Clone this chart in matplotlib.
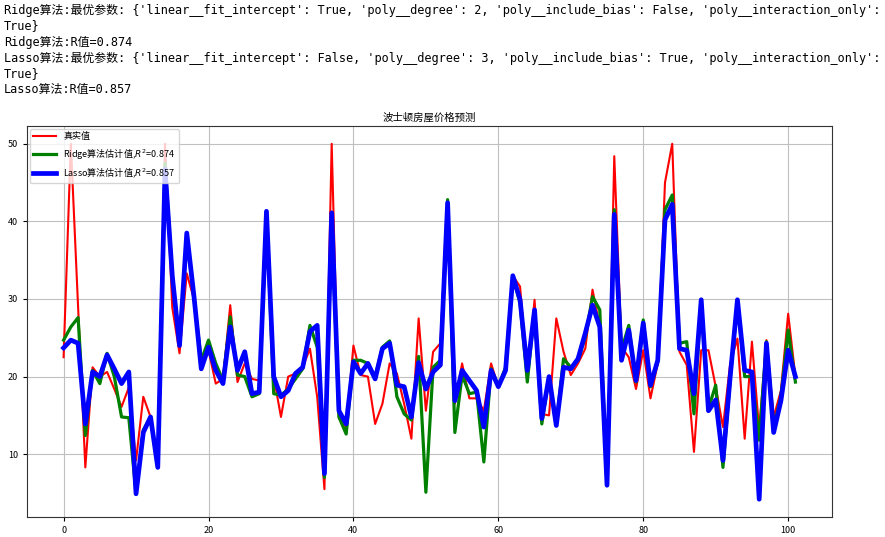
import numpy as np
import matplotlib
matplotlib.use("Agg")
import matplotlib.pyplot as plt

# fuente con soporte para chino
plt.rcParams["font.family"] = ["Noto Sans CJK SC", "DejaVu Sans"]
plt.rcParams["axes.unicode_minus"] = False

# valores
y_true = [22.5, 50.0, 29.0, 8.3, 21.2, 20.0, 20.6, 18.4, 16.1, 18.6,
          9.2, 17.4, 14.8, 8.3, 50.0, 28.9, 23.0, 33.3, 29.9, 21.7,
          23.4, 19.1, 19.7, 29.2, 19.3, 21.7, 19.7, 19.5, 41.3, 20.0,
          14.8, 20.0, 20.4, 21.2, 23.6, 17.4, 5.5, 50.0, 14.6, 13.5,
          24.0, 20.2, 20.0, 13.9, 16.5, 21.7, 20.4, 16.5, 12.0, 27.5,
          15.6, 23.2, 24.3, 42.6, 16.5, 21.7, 17.2, 17.2, 15.6, 21.7,
          18.7, 21.0, 33.0, 31.6, 20.4, 29.9, 15.2, 15.0, 27.5, 23.2,
          20.2, 21.7, 23.6, 31.2, 26.4, 6.0, 48.4, 23.8, 22.5, 18.4,
          23.4, 17.2, 21.7, 45.0, 50.0, 23.2, 21.5, 10.3, 23.4, 23.4,
          18.7, 13.5, 21.7, 24.9, 12.0, 24.5, 13.1, 24.7, 14.8, 18.2,
          28.1, 20.0]
y_ridge = [24.7, 26.4, 27.6, 12.4, 20.8, 19.1, 23.0, 20.0, 14.8, 14.7,
           4.9, 13.1, 14.8, 8.3, 47.5, 33.0, 24.2, 38.0, 30.0, 22.1,
           24.7, 21.7, 19.5, 27.7, 20.2, 20.0, 17.4, 17.8, 41.3, 17.8,
           17.6, 18.4, 19.7, 21.0, 26.6, 23.8, 7.0, 40.6, 14.8, 12.6,
           22.1, 22.1, 21.7, 20.0, 23.8, 24.6, 17.4, 15.2, 14.4, 22.6,
           5.1, 21.2, 22.1, 42.8, 12.8, 20.2, 17.8, 18.0, 9.0, 21.0,
           18.7, 21.2, 33.0, 29.4, 19.3, 28.6, 13.9, 20.0, 13.9, 22.3,
           21.2, 22.1, 25.1, 30.3, 28.6, 6.0, 41.5, 23.4, 26.6, 19.3,
           27.3, 18.7, 21.9, 41.5, 43.4, 24.3, 24.5, 15.2, 29.9, 15.9,
           18.9, 8.3, 19.7, 29.7, 20.0, 20.0, 11.8, 24.5, 13.5, 17.4,
           26.0, 19.3]
y_lasso = [23.7, 24.7, 24.3, 13.9, 20.6, 20.0, 22.8, 21.0, 19.1, 20.6,
           4.9, 12.8, 14.8, 8.3, 46.7, 33.0, 24.0, 38.5, 30.3, 21.0,
           23.8, 20.8, 19.1, 26.4, 20.8, 23.2, 17.8, 18.0, 41.3, 20.0,
           17.4, 18.2, 20.4, 21.2, 25.8, 26.6, 7.5, 41.1, 15.6, 13.9,
           21.9, 20.4, 21.7, 19.7, 23.6, 24.3, 18.9, 18.7, 14.8, 21.8,
           18.4, 20.6, 21.5, 42.4, 16.9, 20.8, 19.5, 18.2, 13.5, 20.8,
           18.7, 20.8, 33.0, 29.9, 20.8, 28.6, 14.6, 20.0, 13.7, 21.2,
           21.0, 22.3, 25.6, 29.2, 26.4, 6.0, 40.9, 22.1, 26.0, 19.5,
           26.9, 18.9, 22.1, 40.2, 42.2, 23.6, 23.4, 17.8, 29.9, 15.6,
           17.0, 9.2, 20.0, 29.9, 20.8, 20.6, 4.2, 24.3, 12.8, 16.9,
           23.4, 20.0]

r2_ridge = 0.874
r2_lasso = 0.857

salida = [
    "Ridge算法:最优参数: {'linear__fit_intercept': True, 'poly__degree': 2, "
    "'poly__include_bias': False, 'poly__interaction_only':",
    "True}",
    "Ridge算法:R值=%.3f" % r2_ridge,
    "Lasso算法:最优参数: {'linear__fit_intercept': False, 'poly__degree': 3, "
    "'poly__include_bias': True, 'poly__interaction_only':",
    "True}",
    "Lasso算法:R值=%.3f" % r2_lasso,
]

fig = plt.figure(figsize=(8.85, 5.37), dpi=100)

# texto de la consola arriba
y_lineas = [10, 26, 42, 58, 74, 89]
for linea, yp in zip(salida, y_lineas):
    fig.text(4 / 885, 1 - yp / 537, linea, ha="left", va="center",
             fontsize=8.6, family=["DejaVu Sans Mono", "Noto Sans CJK SC"])

ax = fig.add_axes([27 / 885, 20 / 537, 805 / 885, 391 / 537])
x = np.arange(len(y_true))
ax.plot(x, y_true, "r-", lw=1.5, label="真实值")
ax.plot(x, y_ridge, "g-", lw=2.3, label="Ridge算法估计值,$R^2$=%.3f" % r2_ridge)
ax.plot(x, y_lasso, "b-", lw=3.4, label="Lasso算法估计值,$R^2$=%.3f" % r2_lasso)

ax.set_title("波士顿房屋价格预测", fontsize=7.5, pad=4)
ax.legend(loc="upper left", fontsize=6.5, handlelength=2.5, borderaxespad=0.3)
ax.grid(True, color="#c0c0c0")
ax.tick_params(labelsize=6.5, length=3)
for s in ax.spines.values():
    s.set_color("#333333")

fig.savefig("out.png", dpi=100)
